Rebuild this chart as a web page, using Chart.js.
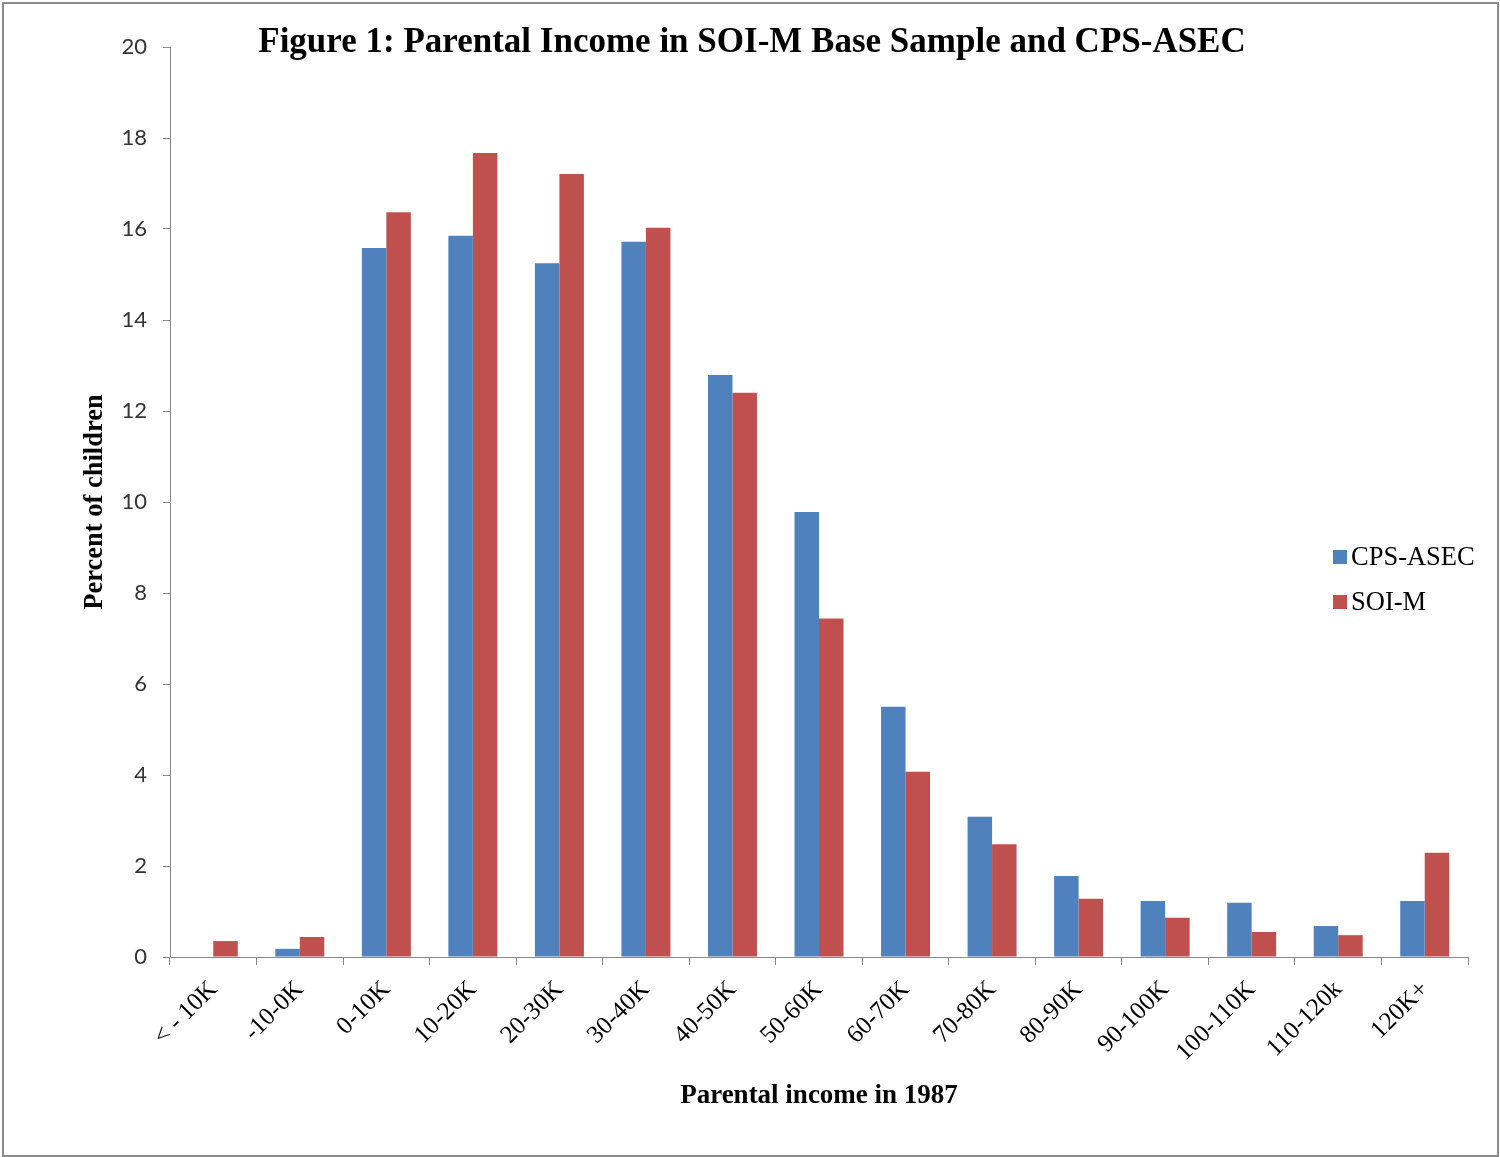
<!DOCTYPE html>
<html>
<head>
<meta charset="utf-8">
<script src="https://cdn.jsdelivr.net/npm/chart.js@4.4.1/dist/chart.umd.min.js"></script>
<style>
  body { margin: 0; background: #fff; }
  #wrap { position: relative; width: 1500px; height: 1157px; }
  #frame { position: absolute; left: 2px; top: 2px; width: 1493px; height: 1151px; border: 2px solid #8c8c8c; }
</style>
</head>
<body>
<div id="wrap">
  <canvas id="chart1" width="1500" height="1157"></canvas>
  <div id="frame"></div>
</div>
<script>
const categories = ['< - 10K', '-10-0K', '0-10K', '10-20K', '20-30K', '30-40K', '40-50K',
  '50-60K', '60-70K', '70-80K', '80-90K', '90-100K', '100-110K', '110-120k', '120K+'];
const cpsAsec = [0, 0.18, 15.58, 15.85, 15.25, 15.72, 12.79, 9.78, 5.5, 3.08, 1.78, 1.23, 1.19, 0.68, 1.23];
const soiM = [0.35, 0.44, 16.37, 17.67, 17.21, 16.03, 12.4, 7.44, 4.07, 2.48, 1.28, 0.86, 0.55, 0.48, 2.29];
const yTicks = [0, 2, 4, 6, 8, 10, 12, 14, 16, 18, 20];

const chartTitle = 'Figure 1: Parental Income in SOI-M Base Sample and CPS-ASEC';
const serif = "'Liberation Serif', 'Times New Roman', serif";

// title + legend drawn by hand, they sit inside the plot area in the original
const overlay = {
  id: 'overlay',
  afterDraw(chart) {
    const c = chart.ctx;
    c.save();
    c.fillStyle = '#000';
    c.font = 'bold 35px ' + serif;
    c.textAlign = 'center';
    c.textBaseline = 'middle';
    c.fillText(chartTitle, 752, 43);

    c.font = '26.5px ' + serif;
    c.textAlign = 'left';
    chart.data.datasets.forEach((ds, i) => {
      const y = 557 + i * 45;
      c.fillStyle = ds.backgroundColor;
      c.fillRect(1333, y - 7, 14, 14);
      c.fillStyle = '#000';
      c.fillText(ds.label, 1351, y + 1);
    });
    c.restore();
  }
};

const ctx = document.getElementById('chart1').getContext('2d');
new Chart(ctx, {
  type: 'bar',
  data: {
    labels: categories,
    datasets: [
      { label: 'CPS-ASEC', data: cpsAsec, backgroundColor: '#4F81BD' },
      { label: 'SOI-M', data: soiM, backgroundColor: '#C0504D' }
    ]
  },
  options: {
    responsive: false,
    animation: false,
    layout: { padding: { left: 0, right: 32, top: 47, bottom: 0 } },
    plugins: {
      legend: { display: false },
      tooltip: { enabled: false }
    },
    datasets: {
      bar: { categoryPercentage: 0.566, barPercentage: 1.0 }
    },
    scales: {
      x: {
        grid: { display: true, drawOnChartArea: false, drawTicks: true, tickLength: 8, color: '#888' },
        border: { display: true, color: '#888', width: 1 },
        ticks: {
          color: '#000',
          font: { family: serif, size: 25 },
          minRotation: 45,
          maxRotation: 45,
          padding: 10,
          autoSkip: false
        },
        title: {
          display: true,
          text: 'Parental income in 1987',
          color: '#000',
          font: { family: serif, size: 27, weight: 'bold' },
          padding: { top: 0, bottom: 45 }
        },
        afterFit(scale) { scale.height = 200; }
      },
      y: {
        min: 0,
        max: 20,
        afterBuildTicks(scale) { scale.ticks = yTicks.map(v => ({ value: v })); },
        grid: { display: true, drawOnChartArea: false, drawTicks: true, tickLength: 7, color: '#888' },
        border: { display: true, color: '#888', width: 1 },
        ticks: {
          color: '#333',
          font: { family: 'Lato, "Open Sans", sans-serif', size: 22 },
          padding: 16
        },
        title: {
          display: true,
          text: 'Percent of children',
          color: '#000',
          font: { family: serif, size: 26.5, weight: 'bold' },
          padding: { top: 79, bottom: 0 }
        },
        afterFit(scale) { scale.width = 170; }
      }
    }
  },
  plugins: [overlay]
});
</script>
</body>
</html>
